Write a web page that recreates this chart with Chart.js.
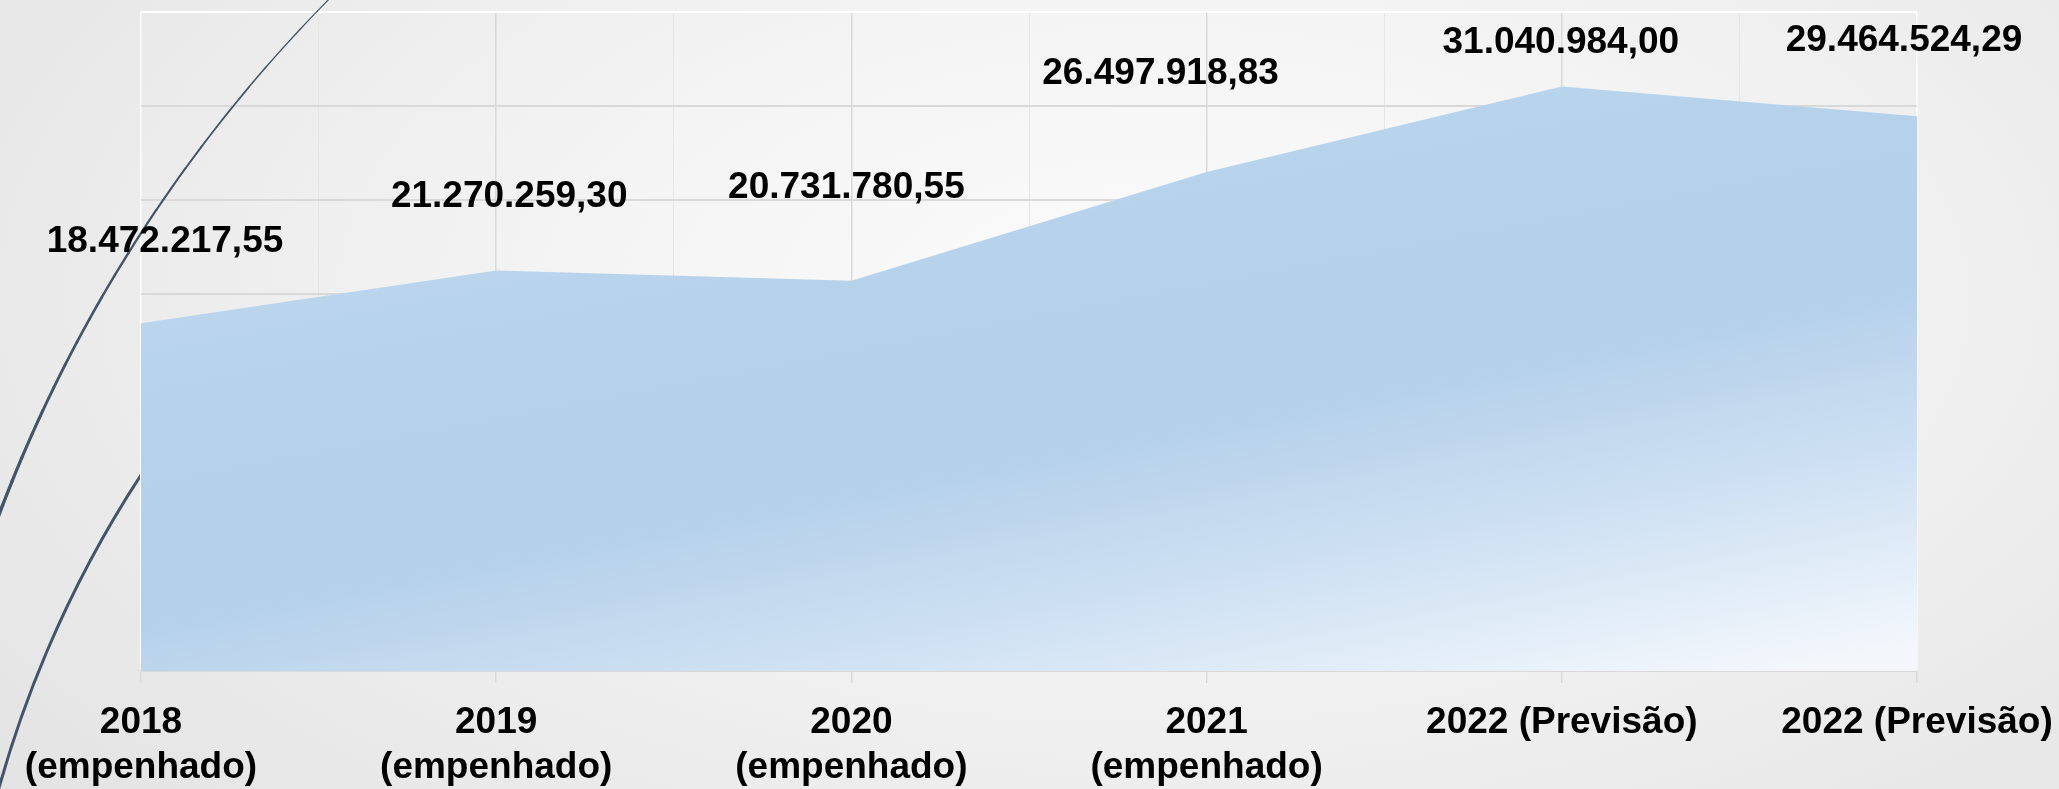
<!DOCTYPE html>
<html>
<head>
<meta charset="utf-8">
<script src="https://cdn.jsdelivr.net/npm/chart.js@4.4.0/dist/chart.umd.min.js"></script>
<style>
  html, body { margin: 0; padding: 0; }
  body {
    width: 2059px; height: 789px; overflow: hidden;
    background: radial-gradient(ellipse 70% 95% at 56% 38%, #fbfbfb 0%, #f4f4f4 40%, #e5e4e4 100%);
  }
  canvas { display: block; }
</style>
</head>
<body>
<canvas id="chart" width="2059" height="789"></canvas>
<script>
// categorias do eixo X
const categories = [
  ['2018', '(empenhado)'],
  ['2019', '(empenhado)'],
  ['2020', '(empenhado)'],
  ['2021', '(empenhado)'],
  '2022 (Previsão)',
  '2022 (Previsão)'
];
// valores da série (R$)
const values = [18472217.55, 21270259.30, 20731780.55, 26497918.83, 31040984.00, 29464524.29];

// eixo Y (oculto)
const yMax = 35000000;
const yStep = 5000000;

// deslocamento manual dos rótulos de dados (px), como no slide
const labelOffsets = [[24, -71], [13, -64], [-5, -83], [-46, -88], [-1, -34], [-13, -65]];

const FONT = '"Liberation Sans", Arial, sans-serif';
const SLATE = '#44546a';
const deg = d => d * Math.PI / 180;

function formatBR(v) {
  const parts = v.toFixed(2).split('.');
  return parts[0].replace(/\B(?=(\d{3})+(?!\d))/g, '.') + ',' + parts[1];
}

// preenchimento em degradê (claro no canto inferior direito)
function areaGradient(context) {
  const area = context.chart.chartArea;
  if (!area) return '#b4d0ea';
  const w = area.right - area.left, h = area.bottom - area.top;
  const a = 0.927 / w, b = 1.816 / h, c = -1.668;
  const n2 = a * a + b * b;
  const at = t => [area.left + (t - c) / n2 * a, area.top + (t - c) / n2 * b];
  const p0 = at(-1), p1 = at(1);
  const g = context.chart.ctx.createLinearGradient(p0[0], p0[1], p1[0], p1[1]);
  g.addColorStop(0, '#c0d9ef');
  g.addColorStop(0.15, '#b8d3ec');
  g.addColorStop(0.35, '#b4d0ea');
  g.addColorStop(0.5, '#b4d0ea');
  g.addColorStop(0.75, '#d0e2f3');
  g.addColorStop(1, '#f3f7fc');
  return g;
}

// arcos decorativos do modelo do slide
const slideArcs = {
  id: 'slideArcs',
  beforeDraw(chart) {
    const { ctx, chartArea } = chart;
    ctx.save();
    ctx.beginPath();
    ctx.rect(0, 0, chartArea.left, chart.height);
    ctx.clip();
    ctx.strokeStyle = SLATE;
    ctx.lineWidth = 3;
    ctx.beginPath();
    ctx.arc(1087, 1093, 1130, deg(190), deg(216));
    ctx.stroke();
    ctx.restore();
  },
  beforeDatasetsDraw(chart) {
    const ctx = chart.ctx;
    ctx.save();
    ctx.strokeStyle = SLATE;
    ctx.lineCap = 'round';
    const a0 = 198, a1 = 226, steps = 28;
    for (let i = 0; i < steps; i++) {
      const s = a0 + (a1 - a0) * i / steps;
      const e = a0 + (a1 - a0) * (i + 1) / steps;
      ctx.lineWidth = 1 + (a1 - s) / (a1 - a0) * 2.6;
      ctx.beginPath();
      ctx.arc(1375, 1032, 1470, deg(s), deg(e));
      ctx.stroke();
    }
    ctx.restore();
  }
};

// rótulos de valores
const valueLabels = {
  id: 'valueLabels',
  afterDatasetsDraw(chart) {
    const ctx = chart.ctx;
    const meta = chart.getDatasetMeta(0);
    ctx.save();
    ctx.font = 'bold 37px ' + FONT;
    ctx.fillStyle = '#000';
    ctx.textAlign = 'center';
    ctx.textBaseline = 'alphabetic';
    meta.data.forEach((pt, i) => {
      const off = labelOffsets[i];
      ctx.fillText(formatBR(values[i]), pt.x + off[0], pt.y + off[1]);
    });
    ctx.restore();
  }
};

new Chart(document.getElementById('chart'), {
  type: 'line',
  data: {
    labels: categories,
    datasets: [{
      data: values,
      fill: 'origin',
      backgroundColor: areaGradient,
      borderWidth: 0,
      pointRadius: 0,
      tension: 0
    }]
  },
  options: {
    responsive: false,
    animation: false,
    layout: { padding: { left: 141, right: 142, top: 12, bottom: 0 } },
    plugins: { legend: { display: false }, tooltip: { enabled: false } },
    scales: {
      x: {
        offset: false,
        afterFit: s => { s.height = 118; s.paddingLeft = 0; s.paddingRight = 0; },
        grid: {
          color: c => (c.index === 0 || c.index === categories.length - 1) ? '#ffffff' : '#d9d9d9',
          lineWidth: 1.5,
          tickColor: '#d9d9d9',
          tickLength: 12
        },
        border: { color: '#d9d9d9', width: 2 },
        ticks: {
          color: '#000',
          padding: 17,
          maxRotation: 0,
          autoSkip: false,
          font: { family: FONT, size: 37, weight: 'bold', lineHeight: '45px' }
        }
      },
      x2: {
        type: 'category',
        position: 'top',
        offset: false,
        grid: { offset: true, color: '#e6e6e6', lineWidth: 1, drawTicks: false },
        border: { display: false },
        ticks: { display: false }
      },
      y: {
        min: 0,
        max: yMax,
        ticks: { display: false, stepSize: yStep },
        border: { display: false },
        grid: {
          drawTicks: false,
          lineWidth: 2,
          color: c => (c.tick && c.tick.value === yMax) ? '#ffffff' : '#d9d9d9'
        }
      }
    }
  },
  plugins: [slideArcs, valueLabels]
});
</script>
</body>
</html>
